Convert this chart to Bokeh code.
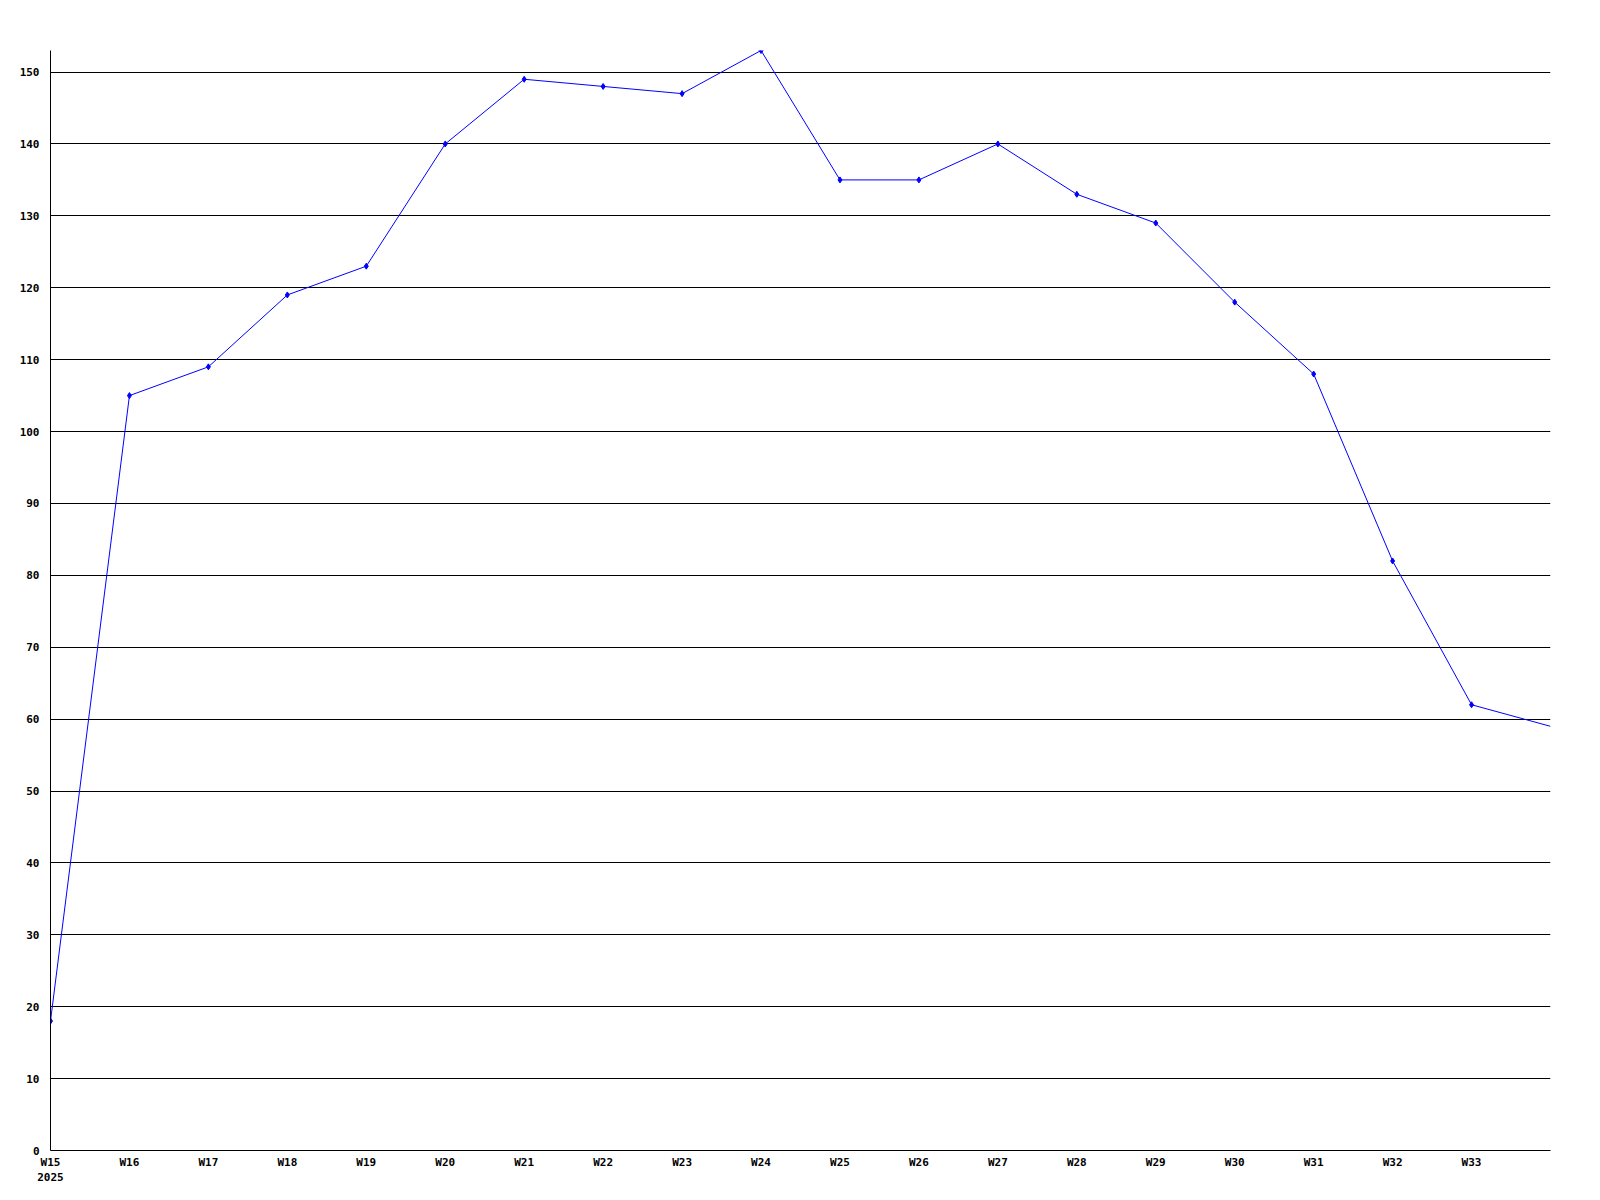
from bokeh.plotting import figure
from bokeh.models import Range1d, FixedTicker
from bokeh.embed import file_html
from bokeh.resources import INLINE

weeks = ["W15", "W16", "W17", "W18", "W19", "W20", "W21", "W22", "W23", "W24",
         "W25", "W26", "W27", "W28", "W29", "W30", "W31", "W32", "W33", "W34"]
values = [18, 105, 109, 119, 123, 140, 149, 148, 147, 153,
          135, 135, 140, 133, 129, 118, 108, 82, 62, 59]
tick_labels = ["W15\n2025"] + weeks[1:19]
y_ticks = list(range(0, 160, 10))

xs = list(range(len(weeks)))

p = figure(width=1592, height=1192, output_backend="svg", toolbar_location=None,
           x_range=Range1d(0, 19), y_range=Range1d(0, 153),
           min_border_left=50, min_border_right=42, min_border_top=50, min_border_bottom=42)
p.outline_line_color = None
p.background_fill_color = "white"
p.border_fill_color = "white"

p.xgrid.grid_line_color = None
p.ygrid.grid_line_color = "black"
p.ygrid.grid_line_width = 1
p.ygrid.ticker = FixedTicker(ticks=y_ticks[1:])

p.yaxis.ticker = FixedTicker(ticks=y_ticks)
p.xaxis.ticker = FixedTicker(ticks=xs[:19])
p.xaxis.major_label_overrides = {i: tick_labels[i] for i in range(19)}

for ax in (p.xaxis, p.yaxis):
    ax.axis_line_color = "black"
    ax.axis_line_width = 1
    ax.major_tick_in = 0
    ax.major_tick_out = 0
    ax.minor_tick_in = 0
    ax.minor_tick_out = 0
    ax.major_label_text_font = "DejaVu Sans Mono"
    ax.major_label_text_font_style = "bold"
    ax.major_label_text_font_size = "11px"
    ax.major_label_text_color = "black"
p.yaxis.major_label_standoff = 11
p.xaxis.major_label_standoff = 5

p.line(xs, values, line_color="#0000ff", line_width=1)
p.scatter(xs[:19], values[:19], marker="diamond", size=6, color="#0000ff")

open("out.html", "w").write(file_html(p, INLINE))
